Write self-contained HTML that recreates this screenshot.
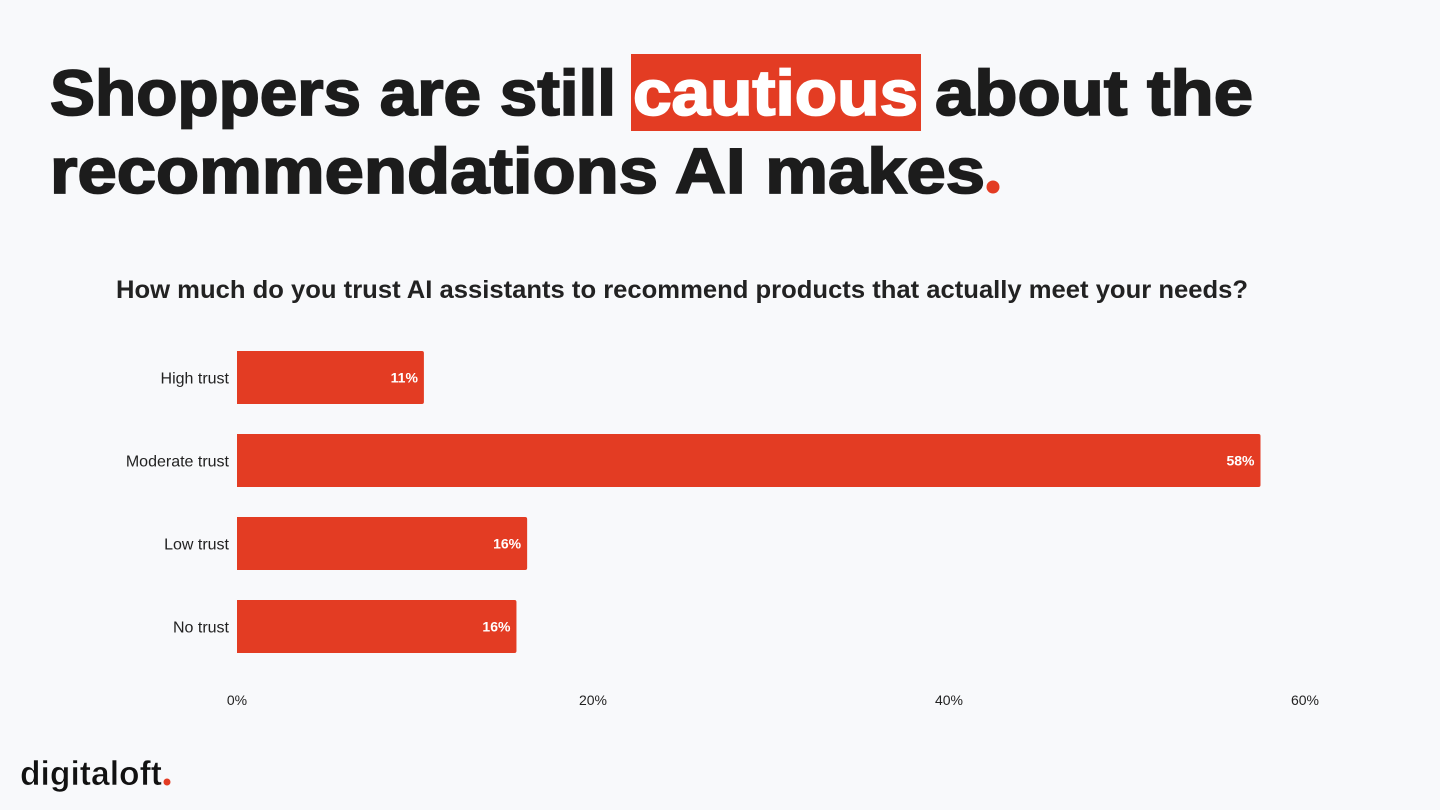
<!DOCTYPE html>
<html><head><meta charset="utf-8"><style>
html,body{margin:0;padding:0;background:#f8f9fb;}
svg{display:block;font-family:"Liberation Sans",sans-serif;}
</style></head><body>
<svg id="chart" width="1440" height="810" viewBox="0 0 1440 810">
  <rect x="0" y="0" width="1440" height="810" fill="#f8f9fb"/>
  <rect x="631" y="54" width="290" height="77" fill="#e33c23"/>
  <g font-weight="bold" font-size="64" fill="#1c1c1c" stroke="#1c1c1c" stroke-width="1.8">
    <text x="50" y="115" textLength="566" lengthAdjust="spacingAndGlyphs">Shoppers are still</text>
    <text x="633" y="115" fill="#ffffff" stroke="#ffffff" textLength="285" lengthAdjust="spacingAndGlyphs">cautious</text>
    <text x="935" y="115" textLength="318" lengthAdjust="spacingAndGlyphs">about the</text>
    <text x="50" y="193" textLength="935" lengthAdjust="spacingAndGlyphs">recommendations AI makes</text>
  </g>
  <circle cx="993" cy="187" r="6.5" fill="#e33c23"/>
  <text x="116" y="298" font-size="25" font-weight="bold" fill="#222" textLength="1132" lengthAdjust="spacingAndGlyphs">How much do you trust AI assistants to recommend products that actually meet your needs?</text>
  <g id="bars"></g>
  <g id="xaxis"></g>
  <text x="20" y="785" font-size="34" font-weight="bold" fill="#111" stroke="#f8f9fb" stroke-width="0.6" textLength="142" lengthAdjust="spacingAndGlyphs">digitaloft</text>
  <circle cx="167" cy="782" r="3.5" fill="#e33c23"/>
</svg>
<script>
const categories = ["High trust","Moderate trust","Low trust","No trust"];
const values = [10.5, 57.5, 16.3, 15.7];
const valueLabels = ["11%","58%","16%","16%"];
const ticks = [0, 20, 40, 60];
const tickLabels = ["0%","20%","40%","60%"];

const NS = "http://www.w3.org/2000/svg";
const x0 = 237, pxPer = (1305 - 237) / 60;
const xScale = v => x0 + v * pxPer;
const yTop = 351, pitch = 83, barH = 53;
const yScale = i => yTop + i * pitch;

const bars = document.getElementById("bars");
categories.forEach((c, i) => {
  const y = yScale(i), w = xScale(values[i]) - x0;
  const p = document.createElementNS(NS, "path");
  p.setAttribute("d", `M${x0},${y}H${x0+w-2}Q${x0+w},${y} ${x0+w},${y+2}V${y+barH-2}Q${x0+w},${y+barH} ${x0+w-2},${y+barH}H${x0}Z`);
  p.setAttribute("fill", "#e33c23");
  
  
  bars.appendChild(p);
  const t = document.createElementNS(NS, "text");
  t.setAttribute("x", x0 - 8); t.setAttribute("y", y + barH/2 + 6);
  t.setAttribute("text-anchor", "end"); t.setAttribute("font-size", "16"); t.setAttribute("fill", "#222");
  t.textContent = c;
  
  
  bars.appendChild(t);
  const v = document.createElementNS(NS, "text");
  v.setAttribute("x", x0 + w - 6); v.setAttribute("y", y + barH/2 + 5);
  v.setAttribute("text-anchor", "end"); v.setAttribute("font-size", "14"); v.setAttribute("font-weight", "bold"); v.setAttribute("fill", "#fff");
  v.textContent = valueLabels[i];
  
  
  bars.appendChild(v);
});
const xaxis = document.getElementById("xaxis");
ticks.forEach((tk, i) => {
  const t = document.createElementNS(NS, "text");
  t.setAttribute("x", xScale(tk)); t.setAttribute("y", 705);
  t.setAttribute("text-anchor", "middle"); t.setAttribute("font-size", "14"); t.setAttribute("fill", "#222");
  t.textContent = tickLabels[i];
  
  
  xaxis.appendChild(t);
});
</script>
</body></html>
